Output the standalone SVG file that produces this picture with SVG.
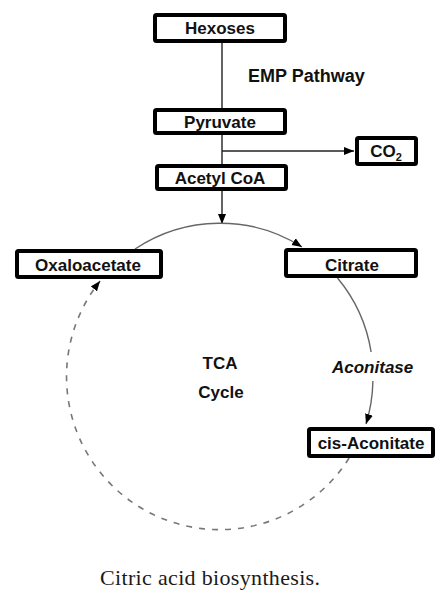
<svg xmlns="http://www.w3.org/2000/svg" width="435" height="602" viewBox="0 0 435 602">
<style>
.box{fill:#fff;stroke:#000;stroke-width:4;}
.lbl{font-family:"Liberation Sans",Arial,sans-serif;font-weight:bold;font-size:17px;fill:#111;text-anchor:middle;}
.line{fill:none;stroke:#222;stroke-width:1.4;}
.arc{fill:none;stroke:#666;stroke-width:1.4;}
.dash{fill:none;stroke:#777;stroke-width:1.6;stroke-dasharray:6 7;}
</style>
<defs>
<marker id="ah" markerWidth="11" markerHeight="9" refX="10" refY="4.5" orient="auto" markerUnits="userSpaceOnUse">
<path d="M0,0.5 L10,4.5 L0,8.5 Z" fill="#000"/>
</marker>
</defs>
<rect width="435" height="602" fill="#fff"/>
<g id="connectors">
<line class="line" x1="222" y1="43" x2="222" y2="108"/>
<line class="line" x1="222" y1="135" x2="222" y2="164"/>
<line class="line" x1="222" y1="151" x2="354" y2="151" marker-end="url(#ah)"/>
<line class="line" x1="222" y1="191" x2="222" y2="224" marker-end="url(#ah)"/>
<path class="arc" d="M135,249 A153,153 0 0,1 302,247" marker-end="url(#ah)"/>
<path class="arc" d="M337.5,278 A153,153 0 0,1 371.1,352"/>
<path class="arc" d="M372.9,381 A153,153 0 0,1 366,424" marker-end="url(#ah)"/>
<path class="dash" d="M349.1,458 A153,153 0 1,1 100.1,281" marker-end="url(#ah)"/>
</g>
<g id="hexoses"><rect class="box" x="155" y="15" width="130" height="26" rx="1.5"/><text class="lbl" x="220" y="34">Hexoses</text></g>
<g id="emp-label"><text class="lbl" x="248" y="82" style="text-anchor:start;font-size:18px">EMP Pathway</text></g>
<g id="pyruvate"><rect class="box" x="155" y="110" width="130" height="23" rx="1.5"/><text class="lbl" x="220" y="128">Pyruvate</text></g>
<g id="co2"><rect class="box" x="357" y="138" width="59" height="26" rx="1.5"/><text class="lbl" x="386" y="157">CO<tspan dy="4" style="font-size:11px">2</tspan></text></g>
<g id="acetyl-coa"><rect class="box" x="157" y="166" width="129" height="23" rx="1.5"/><text class="lbl" x="220" y="184">Acetyl CoA</text></g>
<g id="oxaloacetate"><rect class="box" x="17" y="251" width="144" height="26" rx="1.5"/><text class="lbl" x="88" y="271">Oxaloacetate</text></g>
<g id="citrate"><rect class="box" x="286" y="250" width="130" height="26" rx="1.5"/><text class="lbl" x="352" y="271">Citrate</text></g>
<g id="cis-aconitate"><rect class="box" x="309" y="429" width="124" height="27" rx="1.5"/><text class="lbl" x="371" y="449">cis-Aconitate</text></g>
<g id="tca-label"><text class="lbl" x="220" y="369">TCA</text><text class="lbl" x="221" y="398">Cycle</text></g>
<g id="aconitase-label"><text class="lbl" x="332" y="373" style="text-anchor:start;font-style:italic">Aconitase</text></g>
<g id="caption"><text x="100" y="585" textLength="220" style="font-family:'Liberation Serif','Times New Roman',serif;font-size:22px;fill:#1a1a1a">Citric acid biosynthesis.</text></g>
</svg>
